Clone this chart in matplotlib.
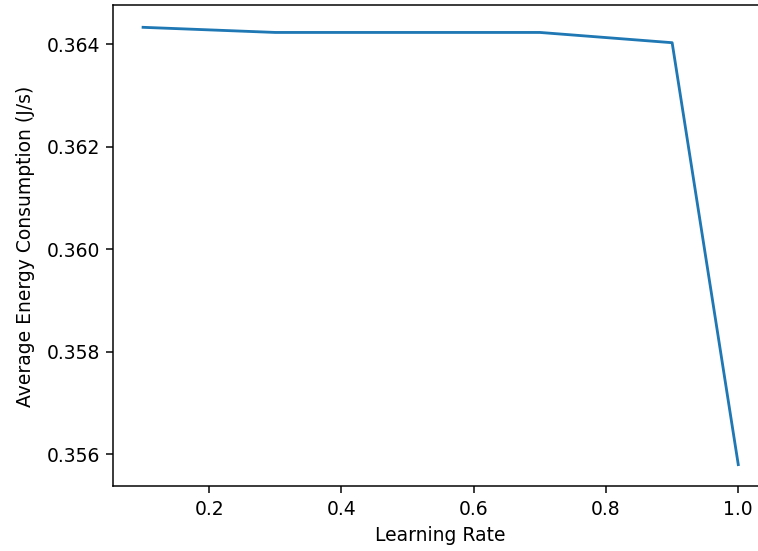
import matplotlib
matplotlib.use("Agg")
import matplotlib.pyplot as plt

# 学习率与平均能耗
learning_rate = [0.1, 0.3, 0.5, 0.7, 0.9, 1.0]
avg_energy = [0.36433, 0.36423, 0.36423, 0.36423, 0.36403, 0.35580]

fig = plt.figure(figsize=(759 / 135, 551 / 135), dpi=135)
ax = fig.add_axes([0.1493, 0.1171, 0.8626, 0.873])
ax.plot(learning_rate, avg_energy, color="#1f77b4")
ax.set_xlabel("Learning Rate")
ax.set_ylabel("Average Energy Consumption (J/s)", labelpad=6.5)
ax.set_xticks([0.2, 0.4, 0.6, 0.8, 1.0])
ax.set_yticks([0.356, 0.358, 0.360, 0.362, 0.364])

fig.savefig("out.png", dpi=135)
